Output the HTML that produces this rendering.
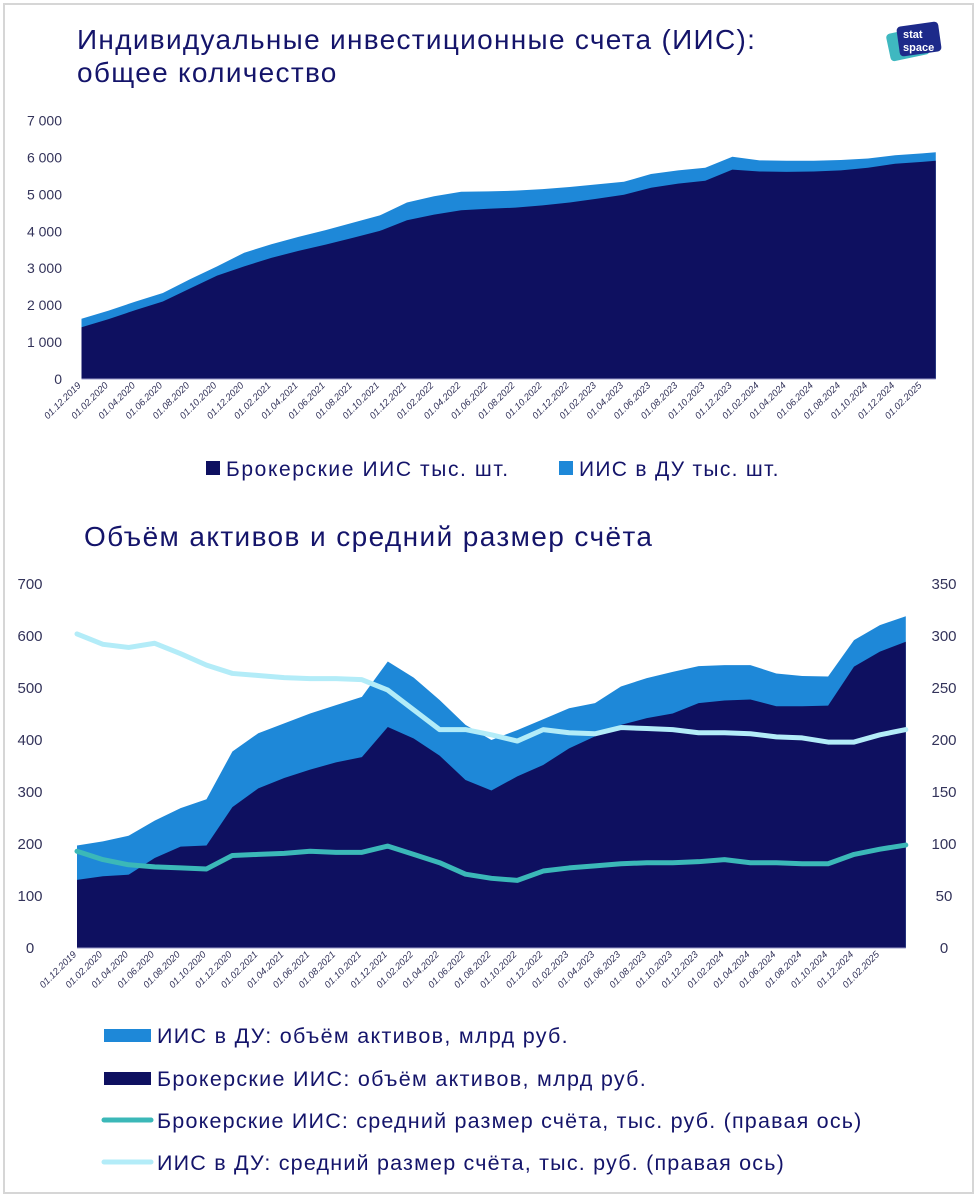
<!DOCTYPE html>
<html><head><meta charset="utf-8">
<style>
html,body{margin:0;padding:0;background:#fff;}
body{width:979px;height:1200px;position:relative;overflow:hidden;font-family:"Liberation Sans",sans-serif;}
#frame{position:absolute;left:3px;top:3px;width:971px;height:1191px;border:2px solid #d6d6d6;box-sizing:border-box;}
svg{position:absolute;left:0;top:0;}
</style></head>
<body>
<div id="frame"></div>
<svg id="svg" width="979" height="1200">
 <g fill="#14146a" font-size="28" letter-spacing="1.3" font-family="Liberation Sans, sans-serif">
  <text x="77" y="49">Индивидуальные инвестиционные счета (ИИС):</text>
  <text x="77" y="82">общее количество</text>
 </g>
 <g>
  <rect x="888" y="30" width="40" height="28" rx="4" fill="#3fb8c0" transform="rotate(-12 908 44)"/>
  <rect x="898" y="24" width="42" height="30" rx="4" fill="#1d2a8a" transform="rotate(-8 919 39)"/>
  <text x="903" y="38" font-size="11" font-weight="bold" fill="#fff">stat</text>
  <text x="903" y="51" font-size="11" font-weight="bold" fill="#fff">space</text>
 </g>
 <text x="84" y="546" fill="#14146a" font-size="28" letter-spacing="1.4">Объём активов и средний размер счёта</text>
 <g id="top"></g>
 <g id="bot"></g>
 <g font-size="21" fill="#14146a" letter-spacing="1.6">
  <g><rect x="206" y="461" width="14" height="14" fill="#0e1060"/><text x="226" y="476">Брокерские ИИС тыс. шт.</text></g>
  <g><rect x="559" y="461" width="14" height="14" fill="#1e88d8"/><text x="579" y="476" letter-spacing="1.3">ИИС в ДУ тыс. шт.</text></g>
 </g>
 <g font-size="21.5" fill="#14146a" letter-spacing="1.3">
  <g><rect x="104" y="1029" width="47" height="13" fill="#1e88d8"/><text x="157" y="1043">ИИС в ДУ: объём активов, млрд руб.</text></g>
  <g><rect x="104" y="1072" width="47" height="13" fill="#0e1060"/><text x="157" y="1086">Брокерские ИИС: объём активов, млрд руб.</text></g>
  <g><line x1="104" y1="1120" x2="151" y2="1120" stroke="#3bb8b8" stroke-width="5" stroke-linecap="round"/><text x="157" y="1128" letter-spacing="1.2">Брокерские ИИС: средний размер счёта, тыс. руб. (правая ось)</text></g>
  <g><line x1="104" y1="1162" x2="151" y2="1162" stroke="#b3ecf8" stroke-width="5" stroke-linecap="round"/><text x="157" y="1170" letter-spacing="1.2">ИИС в ДУ: средний размер счёта, тыс. руб. (правая ось)</text></g>
 </g>
</svg>
<script>
// ---- data: top chart (thousand accounts) ----
const topDates = ["01.12.2019","01.02.2020","01.04.2020","01.06.2020","01.08.2020","01.10.2020","01.12.2020","01.02.2021","01.04.2021","01.06.2021","01.08.2021","01.10.2021","01.12.2021","01.02.2022","01.04.2022","01.06.2022","01.08.2022","01.10.2022","01.12.2022","01.02.2023","01.04.2023","01.06.2023","01.08.2023","01.10.2023","01.12.2023","01.02.2024","01.04.2024","01.06.2024","01.08.2024","01.10.2024","01.12.2024","01.02.2025","01.03.2025"];
const topBroker = [1400,1620,1870,2100,2450,2800,3050,3280,3470,3640,3820,4010,4300,4450,4570,4610,4640,4700,4780,4880,4990,5180,5290,5370,5670,5620,5610,5620,5650,5720,5830,5880,5910];
const topDU = [230,230,230,230,250,250,370,370,380,390,410,420,480,500,500,470,460,440,420,390,350,370,360,350,350,300,300,290,280,250,230,230,230];
const topTicks = [0,1000,2000,3000,4000,5000,6000,7000];
const topTickLabels = ["0","1 000","2 000","3 000","4 000","5 000","6 000","7 000"];
// ---- data: bottom chart ----
const botDates = ["01.12.2019","01.02.2020","01.04.2020","01.06.2020","01.08.2020","01.10.2020","01.12.2020","01.02.2021","01.04.2021","01.06.2021","01.08.2021","01.10.2021","01.12.2021","01.02.2022","01.04.2022","01.06.2022","01.08.2022","01.10.2022","01.12.2022","01.02.2023","01.04.2023","01.06.2023","01.08.2023","01.10.2023","01.12.2023","01.02.2024","01.04.2024","01.06.2024","01.08.2024","01.10.2024","01.12.2024","01.02.2025","01.04.2025"];
const botBrokerAssets = [131,138,141,173,195,197,271,307,327,343,357,367,425,403,370,323,303,330,352,384,407,429,442,451,471,476,478,465,465,466,541,570,589];
const botTotalAssets = [197,205,216,245,269,286,378,413,432,451,467,483,551,520,477,429,400,419,440,461,471,503,519,531,542,544,544,528,523,522,592,621,638];
const botBrokerAvg = [93,85,80,78,77,76,89,90,91,93,92,92,98,90,82,71,67,65,74,77,79,81,82,82,83,85,82,82,81,81,90,95,99];
const botDuAvg = [302,292,289,293,283,272,264,262,260,259,259,258,248,229,210,210,205,199,210,207,206,212,211,210,207,207,206,203,202,198,198,205,210];
const leftTicks = [0,100,200,300,400,500,600,700];
const rightTicks = [0,50,100,150,200,250,300,350];

const NS="http://www.w3.org/2000/svg";
function mk(parent,tag,attrs){const e=document.createElementNS(NS,tag);for(const k in attrs)e.setAttribute(k,attrs[k]);parent.appendChild(e);return e;}
function mIdx(d){const p=d.split(".");return (+p[2])*12+(+p[1]-1);}
const base=mIdx("01.12.2019");

function labelsX(g,dates,xf,y0){
  dates.forEach((d,i)=>{
    if(i===dates.length-1)return;
    const x=xf(d);
    const t=mk(g,"text",{x:x,y:y0+7,"font-size":"9.5",fill:"#33335a","font-style":"italic","text-anchor":"end",transform:`rotate(-45 ${x} ${y0+7})`});
    
    
    t.textContent=d;
  });
}

// ---- top chart ----
(function(){
  const g=document.getElementById("top");
  const x0=81.5,step=13.56;
  const xf=d=>x0+(mIdx(d)-base)*step;
  const y0=379,yTop=120.5;
  const yf=v=>y0-(v/7000)*(y0-yTop);
  topTicks.forEach((v,i)=>{const t=mk(g,"text",{x:62,y:yf(v)+5,"font-size":"14",fill:"#33335a","text-anchor":"end"});
    t.textContent=topTickLabels[i];});
  const tot=topBroker.map((v,i)=>v+topDU[i]);
  let p="M"+xf(topDates[0])+","+y0;
  topDates.forEach((d,i)=>p+=" L"+xf(d)+","+yf(tot[i]));
  p+=" L"+xf(topDates[topDates.length-1])+","+y0+" Z";
  const a1=mk(g,"path",{d:p,fill:"#1e88d8"});
  
  p="M"+xf(topDates[0])+","+y0;
  topDates.forEach((d,i)=>p+=" L"+xf(d)+","+yf(topBroker[i]));
  p+=" L"+xf(topDates[topDates.length-1])+","+y0+" Z";
  const a2=mk(g,"path",{d:p,fill:"#0e1060"});
  
  const ax=mk(g,"line",{x1:x0,y1:y0,x2:xf(topDates[topDates.length-1]),y2:y0,stroke:"#9a9ac8","stroke-width":1});
  
  labelsX(g,topDates,xf,y0);
})();

// ---- bottom chart ----
(function(){
  const g=document.getElementById("bot");
  const x0=77,step=12.95;
  const xf=d=>x0+(mIdx(d)-base)*step;
  const y0=948,yTop=584;
  const yl=v=>y0-(v/700)*(y0-yTop);
  const yr=v=>y0-(v/350)*(y0-yTop);
  leftTicks.forEach(v=>{const t=mk(g,"text",{x:30,y:yl(v)+5,"font-size":"15",fill:"#33335a","text-anchor":"middle"});
    t.textContent=v;});
  rightTicks.forEach(v=>{const t=mk(g,"text",{x:944,y:yr(v)+5,"font-size":"15",fill:"#33335a","text-anchor":"middle"});
    t.textContent=v;});
  const last=botDates[botDates.length-1];
  function area(vals,fill,name){
    let p="M"+xf(botDates[0])+","+y0;
    botDates.forEach((d,i)=>p+=" L"+xf(d)+","+yl(vals[i]));
    p+=" L"+xf(last)+","+y0+" Z";
    const e=mk(g,"path",{d:p,fill:fill});
    
  }
  area(botTotalAssets,"#1e88d8","area-du-assets");
  area(botBrokerAssets,"#0e1060","area-broker-assets");
  function line(vals,col,name){
    const pts=botDates.map((d,i)=>xf(d)+","+yr(vals[i])).join(" ");
    const e=mk(g,"polyline",{points:pts,fill:"none",stroke:col,"stroke-width":5,"stroke-linejoin":"round","stroke-linecap":"round"});
    
  }
  line(botBrokerAvg,"#3bb8b8","line-broker-avg");
  line(botDuAvg,"#b3ecf8","line-du-avg");
  const ax=mk(g,"line",{x1:x0,y1:y0,x2:xf(last),y2:y0,stroke:"#9a9ac8","stroke-width":1});
  
  labelsX(g,botDates,xf,y0);
})();
</script>
</body></html>
